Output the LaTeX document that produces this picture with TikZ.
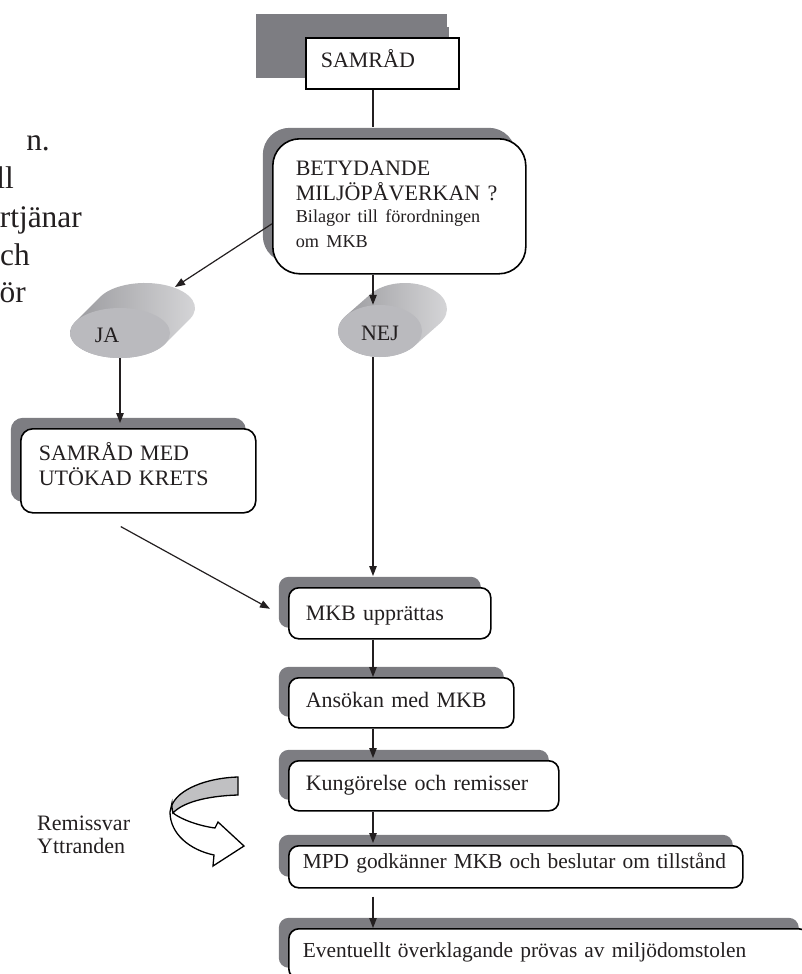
\documentclass[tikz,border=0pt]{standalone}
\usepackage{fontspec}
\setmainfont{Liberation Serif}
\usetikzlibrary{shadows,arrows.meta,calc,shapes.geometric}
\definecolor{shadegray}{RGB}{125,125,130}
\definecolor{ink}{RGB}{35,31,32}
\definecolor{ellfront}{RGB}{186,186,190}
\definecolor{ellbackA}{RGB}{150,150,154}
\definecolor{ellbackB}{RGB}{216,216,218}
\definecolor{uturn}{RGB}{192,192,194}
\newcommand\bigtxt{\fontsize{22}{25}\selectfont}
\newcommand\midtxt{\fontsize{21.4}{25}\selectfont}
\newcommand\smalltxt{\fontsize{18.2}{21.5}\selectfont}
\newcommand\pagetxt{\fontsize{31.4}{38}\selectfont}
\begin{document}
\begin{tikzpicture}[x=1pt,y=-1pt,
  box/.style={draw=black, line width=1.6pt, fill=white, rounded corners=10pt,
    anchor=north west, inner ysep=0pt, align=left, font=\bigtxt, text=ink,
    general shadow={fill=shadegray, shadow xshift=-10pt, shadow yshift=11pt}},
  conn/.style={line width=1.2pt, draw=ink},
  arr/.style={conn, -{Triangle[length=10pt,width=7.5pt]}},
  frontell/.style={ellipse, fill=ellfront, inner sep=0pt},
  lbl/.style={font=\bigtxt, text=ink, inner sep=0pt},
  pagefrag/.style={font=\pagetxt, text=ink, inner sep=0pt, anchor=base east}]
\useasboundingbox (0,0) rectangle (802,974);
\clip (0,0) rectangle (802,974);

% clipped page text at the left
\node[pagefrag] (f1) at (50,150) {n.};
\node[pagefrag] (f2) at (14,188) {ll};
\node[pagefrag] (f3) at (82,227) {rtjänar};
\node[pagefrag] (f4) at (30,265) {ch};
\node[pagefrag] (f5) at (26,302) {ör};

% SAMRÅD
\fill[shadegray] (256,14) rectangle (447,78);
\node[box, rounded corners=0pt, general shadow={opacity=0}, inner xsep=15pt, text width=123pt,
  text height=30pt, text depth=21pt] (samrad) at (305,37) {SAMRÅD};

% BETYDANDE
\node[box, rounded corners=27pt, inner xsep=23pt, text width=207pt,
  text height=37pt, text depth=98pt] (betyd) at (272,138)
  {BETYDANDE\par MILJÖPÅVERKAN~?\par\smalltxt Bilagor till förordningen\par om MKB};

% JA (3D ellipse)
\shade[left color=ellbackA, right color=ellbackB]
  (75.3,321.8) -- (100.3,296.8) arc[start angle=206.57, end angle=386.57, x radius=50, y radius=25]
  -- (164.7,344.2) arc[start angle=26.57, end angle=206.57, x radius=50, y radius=25] -- cycle;
\node[frontell, minimum width=100pt, minimum height=50pt] (ja) at (120,333) {};
\node[lbl, anchor=base] (jatxt) at (107,342) {JA};

% NEJ (3D ellipse)
\shade[left color=ellbackA, right color=ellbackB]
  (345.6,316.05) -- (370.6,294.05) arc[start angle=215.1, end angle=395.1, x radius=42, y radius=26]
  -- (414.4,345.95) arc[start angle=35.1, end angle=215.1, x radius=42, y radius=26] -- cycle;
\node[frontell, minimum width=84pt, minimum height=52pt] (nej) at (380,331) {};
\node[lbl, anchor=base] (nejtxt) at (380,340) {NEJ};

% other boxes
\node[box, rounded corners=12pt, inner xsep=18pt, text width=199pt,
  text height=32pt, text depth=52pt] (utokad) at (20,428) {SAMRÅD MED\par UTÖKAD KRETS};
\node[box, inner xsep=17pt, text width=168pt, text height=33pt, text depth=18pt]
  (mkb) at (288,587) {\mbox{MKB upprättas}};
\node[box, inner xsep=17pt, text width=191pt, text height=30pt, text depth=20pt]
  (ansokan) at (288,677) {\mbox{Ansökan med MKB}};
\node[box, inner xsep=17pt, text width=236pt, text height=30pt, text depth=20pt]
  (kung) at (288,760) {\mbox{Kungörelse och remisser}};
\node[box, inner xsep=14pt, text width=426pt, text height=23pt, text depth=19pt, font=\midtxt]
  (mpd) at (288,845) {\mbox{MPD godkänner MKB och beslutar om tillstånd}};
\node[box, inner xsep=14pt, text width=492pt, text height=29pt, text depth=21pt, font=\midtxt]
  (event) at (288,928) {\mbox{Eventuellt överklagande prövas av miljödomstolen}};

% U-turn arrow
\filldraw[fill=white, draw=black, line width=1.3pt, line join=miter]
  (173,813) .. controls (182,820) and (200,826) .. (215,828) -- (218,822) -- (244,846)
  -- (213,866) -- (214,855) .. controls (190,850) and (170,834) .. (170,812) -- (172,803) -- cycle;
\filldraw[fill=uturn, draw=black, line width=1.3pt, line join=miter]
  (238,777) .. controls (205,778) and (178,790) .. (172,805)
  .. controls (172,808) and (172,810) .. (173,813)
  .. controls (182,803) and (205,796) .. (238,795) -- cycle;
\node[lbl, anchor=base west] (rem1) at (37,830) {Remissvar};
\node[lbl, anchor=base west] (rem2) at (37,853) {Yttranden};

% connectors
\coordinate (col) at (373,0);
\draw[conn] (samrad.south -| col) -- ($(betyd.north -| col)+(0,-11)$);
\draw[arr] (betyd.south -| col) -- (col |- nej.north);
\draw[arr] ($(betyd.west)+(0,17.5)$) -- ($(ja.center)+(55,-46)$);
\draw[arr] (nej.south -| col) -- ($(mkb.north -| col)+(0,-11)$);
\draw[arr] (ja.south) -- ($(utokad.north -| ja)+(0,-5)$);
\draw[arr] ($(utokad.south)+(-17.5,13)$) -- ($(mkb.west)+(-18,-4.5)$);
\draw[arr] (mkb.south -| col) -- (ansokan.north -| col);
\draw[arr] (ansokan.south -| col) -- ($(kung.north -| col)+(0,-2)$);
\draw[arr] (kung.south -| col) -- ($(mpd.north -| col)+(0,-2)$);
\draw[arr] ($(mpd.south -| col)+(0,8)$) -- (event.north -| col);
\end{tikzpicture}
\end{document}
